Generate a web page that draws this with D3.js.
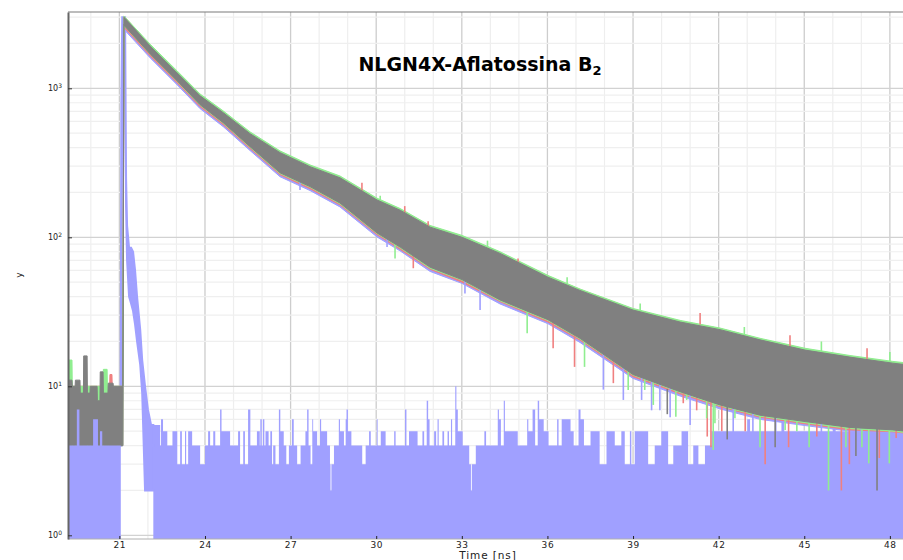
<!DOCTYPE html>
<html>
<head>
<meta charset="utf-8">
<script src="https://cdn.jsdelivr.net/npm/d3@7"></script>
<style>
  body { margin: 0; background: #fff; }
  svg { display: block; }
  text { font-family: "DejaVu Sans", sans-serif; }
</style>
</head>
<body>
<svg id="chart" width="903" height="560"></svg>
<script>
/* TCSPC decay traces, log y */

const xDomain = [19.2, 48.53];
const yDomain = [0.9445, 3252];
const xTicks = [21, 24, 27, 30, 33, 36, 39, 42, 45, 48];
const yTicks = [1, 10, 100, 1000];

// gray decay (top layer): upper / lower envelope
const grayT = [19.20, 19.34, 19.35, 19.45, 19.46, 19.62, 19.63, 19.74, 19.75, 19.87,
  19.88, 19.97, 19.98, 20.22, 20.23, 20.32, 20.33, 20.43, 20.44, 20.60,
  20.61, 20.68, 20.69, 20.78, 20.79, 20.92, 20.93, 21.12,
  21.16, 21.20, 22.08, 23.02, 23.83, 24.64, 25.58, 26.63, 27.68, 28.73,
  30.03, 30.84, 31.89, 33.01, 34.34, 36.02, 37.14, 39.00, 40.65, 42.05,
  43.45, 45.03, 46.60, 48.10, 48.53];
const grayHi = [11, 11, 10, 10, 11, 11, 9, 9, 16, 16,
  9, 9, 10, 10, 8, 8, 12.5, 12.5, 9, 9,
  10.5, 10.5, 10.5, 10.5, 10, 10, 10, 10,
  3000, 2950, 1920, 1270, 890, 686, 496, 370, 298, 251,
  178, 152, 117, 100, 78, 54, 44, 32.5, 27, 24,
  20.5, 17.5, 15.7, 14.3, 14];
const grayLo = [4, 4, 4, 4, 4, 4, 3, 3, 4, 4,
  4, 4, 4, 4, 4, 4, 4, 4, 4, 4,
  4, 3, 3, 3, 3, 3, 4, 4,
  2700, 2600, 1700, 1125, 776, 588, 406, 271, 219, 170,
  107, 86, 63, 52, 38, 28, 21, 12, 9.2, 7.5,
  6.4, 5.8, 5.3, 5.1, 5];

const decayT = [21.16, 21.20, 22.08, 23.02, 23.83, 24.64, 25.58, 26.63, 27.68, 28.73,
  30.03, 30.84, 31.89, 33.01, 34.34, 36.02, 37.14, 39.00, 40.65, 42.05,
  43.45, 45.03, 46.60, 48.10, 48.53];

const greenPreT = [19.20, 19.34, 19.35, 19.88, 19.89, 19.95, 19.96, 20.43, 20.44, 20.57, 20.58, 21.12];
const greenPreHi = [15, 15, 10, 10, 10, 10, 10, 10, 13, 13, 10, 10];
const greenPreLo = [4, 4, 4, 4, 2, 2, 4, 4, 4, 4, 4, 4];
const greenHi = [3050, 3000, 1975, 1310, 915, 705, 510, 380, 306, 258,
  183, 156, 120, 103, 80, 55.5, 45, 33.3, 27.7, 24.6, 21, 18, 16.1, 14.7, 14.4];
const greenLo = [2690, 2590, 1690, 1115, 770, 583, 402, 268, 217, 168,
  106, 85, 62, 51.5, 37.5, 27.7, 20.8, 11.9, 9.1, 7.4, 6.3, 5.7, 5.2, 5.0, 4.9];

const redPreT = [19.20, 20.66, 20.67, 20.74, 20.75, 21.12];
const redPreHi = [10, 10, 12, 12, 10, 10];
const redPreLo = [4, 4, 4, 4, 4, 4];
const redHi = [3040, 2990, 1950, 1290, 903, 696, 503, 376, 302, 255,
  181, 154, 119, 101.5, 79, 55, 44.7, 33, 27.4, 24.4, 20.8, 17.8, 15.9, 14.5, 14.2];
const redLo = [2620, 2520, 1650, 1090, 752, 570, 394, 263, 212, 165,
  104, 83, 61, 50, 37, 27, 20.4, 11.6, 8.9, 7.3, 6.2, 5.6, 5.1, 4.95, 4.85];

const bluePreT = [19.20, 21.12];
const bluePreHi = [8, 8];
const bluePreLo = [4, 4];
const blueHi = [2970, 2920, 1900, 1257, 881, 679, 491, 366, 295, 248,
  176, 150, 116, 99, 77, 53.5, 43.5, 32, 26.7, 23.8, 20.3, 17.3, 15.5, 14.2, 13.9];
const blueLo = [2540, 2440, 1600, 1058, 730, 553, 382, 255, 206, 160,
  100.5, 81, 59, 49, 35.7, 26.3, 19.7, 11.3, 8.6, 7.05, 6.0, 5.45, 5.0, 4.8, 4.7];

// single-channel excursions beyond the envelopes: time, start count, end count
const blueSpikeT = [27.33, 30.38, 33.11, 33.64, 37.96, 38.66, 39.30, 39.65, 39.94, 40.30, 41.00, 42.51, 43.20, 44.00, 45.60, 47.00];
const blueSpikeFrom = [245, 105, 55, 48, 17, 14, 12, 11, 10.5, 10, 9, 7.4, 6.8, 6.3, 5.7, 5.3];
const blueSpikeTo = [208, 86, 42, 32.5, 9.5, 8.1, 8.1, 6.9, 6.9, 6.2, 5.5, 3.7, 4.2, 4.3, 4.2, 4.2];

const redSpikeT = [29.50, 31.00, 31.30, 31.82, 34.97, 36.20, 36.95, 38.31, 40.76, 41.23, 41.35, 41.60,
  41.73, 42.11, 42.93, 43.63, 44.45, 44.50, 45.44, 46.30, 46.58, 47.20, 47.63, 48.22];
const redSpikeFrom = [205, 145, 75, 112, 62, 28, 22, 15, 9, 8.5, 26, 8.2,
  8, 7.5, 6.9, 6.4, 6, 18.5, 5.7, 5.4, 5.35, 15.2, 5.2, 5.1];
const redSpikeTo = [232, 162, 62, 128, 72, 18, 13.5, 10.5, 7.7, 6.9, 31, 4.6,
  3.9, 5, 5, 3.0, 3.9, 22, 4.6, 2.0, 3.0, 18, 3.3, 4.5];

const greenSpikeT = [30.14, 30.66, 33.90, 35.29, 36.69, 37.30, 38.83, 39.25, 39.41, 39.71, 40.50, 40.88, 41.58, 41.81,
  41.87, 42.57, 42.90, 43.45, 44.33, 44.74, 45.17, 45.60, 45.85, 46.46, 47.02, 47.26, 47.98, 48.00];
const greenSpikeFrom = [168, 90, 84, 32, 47, 20, 12.8, 31, 11.2, 10.6, 9.4, 8.9, 8.3, 8,
  7.9, 7.1, 21, 6.4, 6.1, 5.9, 5.75, 16.8, 5.5, 5.35, 5.25, 5.2, 5.1, 14.3];
const greenSpikeTo = [190, 72, 95, 22.7, 54, 13.5, 9.45, 36, 9.45, 7.5, 6.25, 8.1, 6.1, 3.74,
  5.65, 6.1, 25, 3.9, 5.1, 5.0, 3.9, 20, 2.0, 3.9, 3.9, 3.04, 3.04, 17];

const graySpikeT = [40.20, 42.30, 43.98, 46.81, 47.55];
const graySpikeFrom = [9.6, 7.3, 6.2, 5.3, 5.2];
const graySpikeTo = [6.5, 4.4, 3.9, 3.4, 2.0];

// instrument response peak
const irfT = [21.04, 21.07, 21.10, 21.20, 21.235, 21.27, 21.34, 21.41, 21.48, 21.55,
  21.62, 21.73, 21.80, 21.90, 22.00, 22.11, 22.19];
const irfHi = [4, 800, 3000, 3000, 250, 120, 85, 85, 80, 60, 40, 24, 15, 10, 7, 5.5, 5.5];
const irfLo = [4, 4, 1500, 1500, 160, 70, 40, 36, 32, 26, 20, 14, 9, 2, 2, 2, 2];

// IRF background counts (step values), before and after the peak
const floorPreT = [19.20, 19.51, 19.60, 20.08, 20.25, 20.32, 20.40, 21.05];
const floorPreV = [4, 7, 4, 6, 4, 5, 4, 4];
const floorT = [22.19, 22.43, 22.46, 22.53, 22.68, 22.86, 23.03, 23.13, 23.19, 23.30,
  23.34, 23.41, 23.55, 23.83, 24.00, 24.11, 24.18, 24.29, 24.36, 24.53,
  24.58, 24.88, 25.16, 25.23, 25.34, 25.40, 25.51, 25.59, 25.82, 25.92,
  25.94, 25.99, 26.03, 26.08, 26.12, 26.23, 26.29, 26.35, 26.39, 26.47,
  26.59, 26.64, 26.76, 26.85, 26.94, 27.05, 27.11, 27.23, 27.35, 27.52,
  27.58, 27.63, 27.70, 27.76, 27.79, 27.93, 28.03, 28.07, 28.28, 28.38,
  28.40, 28.43, 28.52, 28.69, 28.73, 28.87, 28.93, 28.96, 29.01, 29.13,
  29.51, 29.63, 29.75, 29.81, 30.02, 30.05, 30.16, 30.33, 30.63, 30.68,
  31.01, 31.06, 31.15, 31.45, 31.62, 31.68, 31.77, 31.82, 31.87, 32.03,
  32.10, 32.15, 32.19, 32.32, 32.38, 32.50, 32.55, 32.62, 32.66, 32.77,
  32.81, 32.86, 33.03, 33.26, 33.32, 33.35, 33.49, 33.79, 33.85, 34.26,
  34.30, 34.37, 34.47, 34.51, 34.96, 35.29, 35.33, 35.48, 35.57, 35.66,
  35.71, 35.87, 36.04, 36.34, 36.39, 36.50, 36.81, 36.92, 37.09, 37.16,
  37.28, 37.51, 37.83, 38.07, 38.36, 38.59, 38.71, 38.89, 38.94, 39.06,
  39.53, 39.76, 39.99, 40.23, 40.41, 40.70, 40.93, 41.11, 41.29, 41.52,
  41.75, 43.00, 43.10, 44.20, 44.30, 46.00, 46.10, 47.50, 47.60, 48.53];
const floorV = [5.5, 4, 6, 5, 4, 5, 3, 5, 3, 5,
  3, 5, 4, 3, 4, 5, 4, 5, 4, 7,
  5, 4, 5, 3, 5, 3, 7, 4, 5, 4,
  6, 4, 6, 4, 5, 4, 5, 3, 4, 3,
  7, 5, 4, 3, 4, 6, 4, 3, 4, 5,
  7, 4, 3, 6, 5, 4, 6, 5, 4, 3,
  2, 3, 4, 6, 5, 4, 6, 7, 5, 4,
  3, 4, 5, 4, 6, 4, 5, 4, 5, 4,
  7, 4, 5, 4, 5, 4, 8, 6, 4, 5,
  4, 6, 4, 5, 4, 5, 4, 6, 4, 10,
  7, 5, 4, 3, 2, 3, 4, 5, 4, 7,
  6, 4, 8, 5, 4, 6, 5, 7, 4, 8,
  6, 5, 4, 6, 4, 6, 5, 4, 7, 6,
  4, 5, 3, 5, 4, 5, 3, 5, 3, 5,
  3, 4, 5, 3, 4, 5, 3, 4, 3, 4,
  5, 6, 5, 6, 5, 7, 5, 6, 5, 5];

const LAV = '#a0a0ff';
const RED = '#f08080';
const GREEN = '#90ee90';
const GRAY = '#808080';

const svg = d3.select('#chart');
const box = { left: 68, right: 905, top: 12, bottom: 539 };

const x = d3.scaleLinear().domain(xDomain).range([box.left, box.right]);
const y = d3.scaleLog().domain(yDomain).range([box.bottom, box.top]);

// grid
const grid = svg.append('g');
d3.range(20, 49).forEach((t) => {
  const major = t % 3 === 0;
  grid.append('line')
    .attr('x1', x(t)).attr('x2', x(t)).attr('y1', box.top).attr('y2', box.bottom)
    .attr('stroke', major ? '#cdcdcd' : '#eeeeee').attr('stroke-width', major ? 1.3 : 1.2);
});
[1, 10, 100, 1000].forEach((dec) => {
  d3.range(1, 10).forEach((k) => {
    const v = dec * k;
    if (v > yDomain[1]) return;
    grid.append('line')
      .attr('x1', box.left).attr('x2', box.right).attr('y1', y(v)).attr('y2', y(v))
      .attr('stroke', k === 1 ? '#d2d2d2' : '#efefef').attr('stroke-width', k === 1 ? 1.3 : 1.2);
  });
});

svg.append('clipPath').attr('id', 'clip').append('rect')
  .attr('x', box.left).attr('y', box.top)
  .attr('width', box.right - box.left).attr('height', box.bottom - box.top);
const plot = svg.append('g').attr('clip-path', 'url(#clip)');

function band(t, hi, lo, color, sw = 1) {
  const pts = t.map((d, i) => ({ t: d, hi: hi[i], lo: lo[i] }));
  plot.append('path').datum(pts)
    .attr('d', d3.area().x((d) => x(d.t)).y0((d) => y(d.lo)).y1((d) => y(d.hi)))
    .attr('fill', color).attr('stroke', color).attr('stroke-width', sw);
}

function floor(t, v, color) {
  const pts = t.map((d, i) => ({ t: d, v: v[i] }));
  plot.append('path').datum(pts)
    .attr('d', d3.area().curve(d3.curveStepAfter)
      .x((d) => x(d.t)).y0(y(yDomain[0])).y1((d) => y(d.v)))
    .attr('fill', color);
}

function spikes(t, from, to, color) {
  plot.append('g').selectAll('line')
    .data(t.map((d, i) => ({ t: d, a: from[i], b: to[i] })))
    .join('line')
    .attr('x1', (d) => x(d.t)).attr('x2', (d) => x(d.t))
    .attr('y1', (d) => y(d.a)).attr('y2', (d) => y(d.b))
    .attr('stroke', color).attr('stroke-width', 1.6);
}

floor(floorT, floorV, LAV);
band(irfT, irfHi, irfLo, LAV, 2);
band(bluePreT.concat(decayT), bluePreHi.concat(blueHi), bluePreLo.concat(blueLo), LAV);
band(redPreT.concat(decayT), redPreHi.concat(redHi), redPreLo.concat(redLo), RED);
band(greenPreT.concat(decayT), greenPreHi.concat(greenHi), greenPreLo.concat(greenLo), GREEN);
spikes(blueSpikeT, blueSpikeFrom, blueSpikeTo, LAV);
spikes(redSpikeT, redSpikeFrom, redSpikeTo, RED);
spikes(greenSpikeT, greenSpikeFrom, greenSpikeTo, GREEN);
band(grayT, grayHi, grayLo, GRAY);
spikes(graySpikeT, graySpikeFrom, graySpikeTo, GRAY);
floor(floorPreT, floorPreV, LAV);

// frame
svg.append('line').attr('x1', box.left).attr('x2', 903).attr('y1', box.top).attr('y2', box.top)
  .attr('stroke', '#7a7a7a').attr('stroke-width', 1.2);
svg.append('line').attr('x1', box.left).attr('x2', 903).attr('y1', box.bottom).attr('y2', box.bottom)
  .attr('stroke', '#b0b0b0').attr('stroke-width', 1);

// axes
const xAxis = svg.append('g').attr('transform', `translate(0,${box.bottom})`)
  .call(d3.axisBottom(x).tickValues(xTicks).tickSizeInner(-3).tickSizeOuter(0).tickPadding(3));
xAxis.select('.domain').remove();
xAxis.selectAll('line').attr('stroke', '#222');
xAxis.selectAll('text').attr('font-size', 9).attr('fill', '#222')
  .attr('letter-spacing', 0.6).attr('font-family', '"DejaVu Sans", sans-serif');

const yAxis = svg.append('g').attr('transform', `translate(${box.left},0)`)
  .call(d3.axisLeft(y).tickValues(yTicks).tickSizeInner(-4).tickSizeOuter(0).tickPadding(6)
    .tickFormat(() => ''));
yAxis.select('.domain').attr('stroke', '#666').attr('stroke-width', 2);
yAxis.selectAll('line').attr('stroke', '#333');
yAxis.selectAll('.tick text').each(function (d) {
  const t = d3.select(this).attr('font-size', 8).attr('fill', '#222')
    .attr('font-family', '"DejaVu Sans", sans-serif');
  t.append('tspan').text('10');
  t.append('tspan').attr('font-size', 6).attr('dy', -3).text(Math.round(Math.log10(d)));
});

svg.append('text').attr('x', 488).attr('y', 559).attr('text-anchor', 'middle')
  .attr('font-size', 10.5).attr('letter-spacing', 0.9).attr('fill', '#222').text('Time [ns]');
svg.append('text').attr('transform', 'translate(22,275) rotate(-90)').attr('text-anchor', 'middle')
  .attr('font-size', 9).attr('fill', '#222').text('y');

const title = svg.append('text').attr('x', 480).attr('y', 71).attr('text-anchor', 'middle')
  .attr('font-family', '"Liberation Sans", Arial, sans-serif').attr('font-weight', 'bold')
  .attr('font-size', 19).attr('fill', '#000');
title.append('tspan').text('NLGN4X-Aflatossina B');
title.append('tspan').attr('font-size', 13).attr('dy', 4).text('2');
</script>
</body>
</html>
